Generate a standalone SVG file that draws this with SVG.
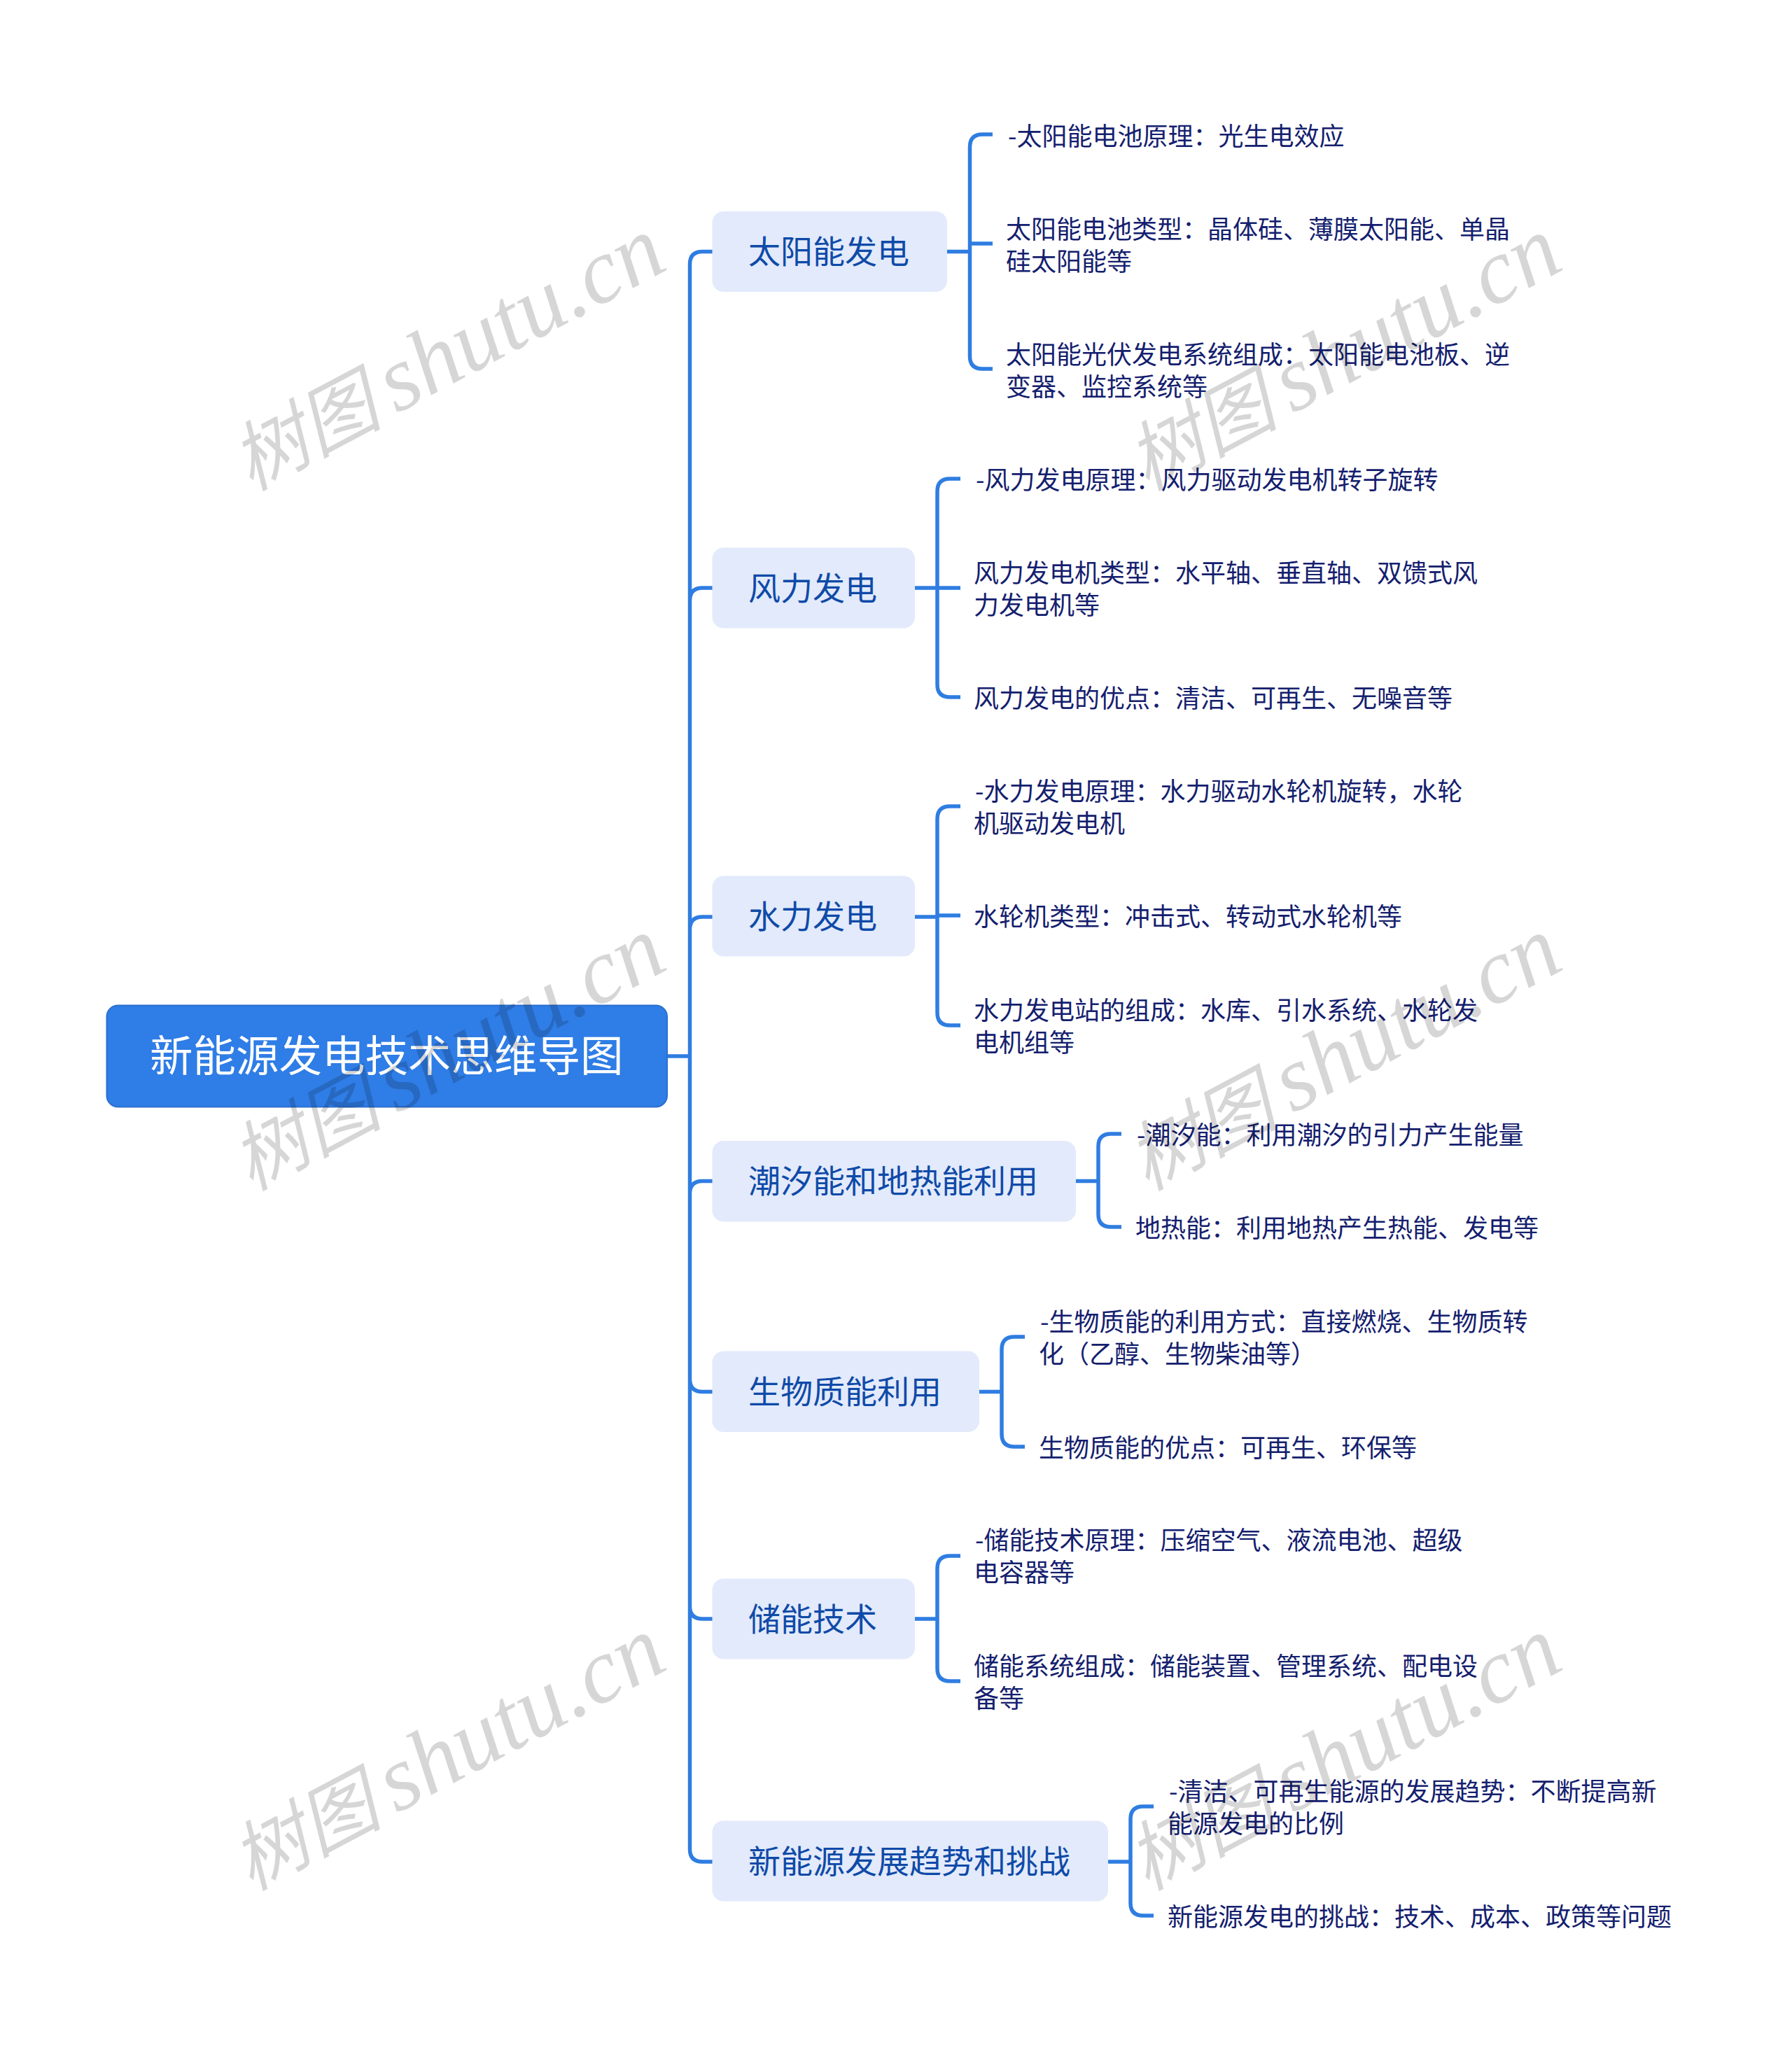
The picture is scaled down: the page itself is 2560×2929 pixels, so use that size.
<svg xmlns="http://www.w3.org/2000/svg" width="2560" height="2929" viewBox="0 0 2560 2929">
<defs>
<style>
text{font-family:"Noto Sans CJK SC","Noto Sans",sans-serif}
.c{fill:none;stroke:#2f7de1;stroke-width:5.500}
.b{fill:#e2eafb}
.bt{font-size:46px;fill:#0f4aa8}
.lt{font-size:36px;fill:#14206e}
.wm{font-family:"Liberation Serif","Noto Sans CJK SC",serif;font-style:italic;font-size:132px;fill:#000;fill-opacity:.16}
.wc{font-size:108px}
</style>
<g id="mark"><text class="wm" transform="rotate(-28)" x="0" y="0"><tspan class="wc">树图</tspan><tspan dx="20">shutu.cn</tspan></text></g>
</defs>
<rect width="2560" height="2929" fill="#fff"/>
<g id="connectors">
<path class="c" d="M954 1509H985.500M1018 359.500H1003.500Q985.500 359.500 985.500 377.500V2642Q985.500 2660 1003.500 2660H1018M1018 840H1003.500Q985.500 840 985.500 858M1018 1310H1003.500Q985.500 1310 985.500 1328M1018 1687.500H1003.500Q985.500 1687.500 985.500 1705.500M1018 1988.500H1003.500Q985.500 1988.500 985.500 1970.500M1018 2313H1003.500Q985.500 2313 985.500 2295"/>
<path class="c" d="M1353 359.500H1385.500M1418 192H1403.500Q1385.500 192 1385.500 210V509Q1385.500 527 1403.500 527H1418M1385.500 348H1418"/>
<path class="c" d="M1307 840H1339M1372 684H1357Q1339 684 1339 702V978Q1339 996 1357 996H1372M1339 840H1372"/>
<path class="c" d="M1307 1310H1339M1372 1152H1357Q1339 1152 1339 1170V1447Q1339 1465 1357 1465H1372M1339 1308H1372"/>
<path class="c" d="M1537 1687.500H1569M1602 1620H1587Q1569 1620 1569 1638V1735Q1569 1753 1587 1753H1602"/>
<path class="c" d="M1399 1988.500H1431M1464 1910H1449Q1431 1910 1431 1928V2049Q1431 2067 1449 2067H1464"/>
<path class="c" d="M1307 2313H1339M1372 2223H1357Q1339 2223 1339 2241V2384Q1339 2402 1357 2402H1372"/>
<path class="c" d="M1583 2660H1615M1648 2581H1633Q1615 2581 1615 2599V2719Q1615 2737 1633 2737H1648"/>
</g>
<g id="root"><rect x="152.500" y="1436.500" width="800.500" height="145" rx="16" fill="#2f7de6" stroke="#2a70d0" stroke-width="2"/><text x="214" y="1531" font-size="61.500" fill="#fff">新能源发电技术思维导图</text></g>
<g id="n1"><rect class="b" x="1017.500" y="302" width="335.500" height="115" rx="16"/><text class="bt" x="1069" y="376">太阳能发电</text></g>
<g id="n1a"><text class="lt" x="1440" y="207.500">-太阳能电池原理：光生电效应</text></g>
<g id="n1b"><text class="lt" x="1437" y="340.500">太阳能电池类型：晶体硅、薄膜太阳能、单晶</text><text class="lt" x="1437" y="386.500">硅太阳能等</text></g>
<g id="n1c"><text class="lt" x="1437" y="519.500">太阳能光伏发电系统组成：太阳能电池板、逆</text><text class="lt" x="1437" y="565.500">变器、监控系统等</text></g>
<g id="n2"><rect class="b" x="1017.500" y="782.500" width="289.500" height="115" rx="16"/><text class="bt" x="1069" y="857">风力发电</text></g>
<g id="n2a"><text class="lt" x="1394" y="699">-风力发电原理：风力驱动发电机转子旋转</text></g>
<g id="n2b"><text class="lt" x="1391" y="832">风力发电机类型：水平轴、垂直轴、双馈式风</text><text class="lt" x="1391" y="878">力发电机等</text></g>
<g id="n2c"><text class="lt" x="1391" y="1011">风力发电的优点：清洁、可再生、无噪音等</text></g>
<g id="n3"><rect class="b" x="1017.500" y="1251.500" width="289.500" height="115" rx="16"/><text class="bt" x="1069" y="1326">水力发电</text></g>
<g id="n3a"><text class="lt" x="1393" y="1144">-水力发电原理：水力驱动水轮机旋转，水轮</text><text class="lt" x="1391" y="1190">机驱动发电机</text></g>
<g id="n3b"><text class="lt" x="1391" y="1323">水轮机类型：冲击式、转动式水轮机等</text></g>
<g id="n3c"><text class="lt" x="1391" y="1457">水力发电站的组成：水库、引水系统、水轮发</text><text class="lt" x="1391" y="1503">电机组等</text></g>
<g id="n4"><rect class="b" x="1017.500" y="1630" width="519.500" height="115.500" rx="16"/><text class="bt" x="1069" y="1704">潮汐能和地热能利用</text></g>
<g id="n4a"><text class="lt" x="1624" y="1635">-潮汐能：利用潮汐的引力产生能量</text></g>
<g id="n4b"><text class="lt" x="1622" y="1768">地热能：利用地热产生热能、发电等</text></g>
<g id="n5"><rect class="b" x="1017.500" y="1930.500" width="381.500" height="115.500" rx="16"/><text class="bt" x="1069" y="2005">生物质能利用</text></g>
<g id="n5a"><text class="lt" x="1486" y="1902">-生物质能的利用方式：直接燃烧、生物质转</text><text class="lt" x="1484" y="1948">化（乙醇、生物柴油等）</text></g>
<g id="n5b"><text class="lt" x="1484" y="2082">生物质能的优点：可再生、环保等</text></g>
<g id="n6"><rect class="b" x="1017.500" y="2255.500" width="289.500" height="115" rx="16"/><text class="bt" x="1069" y="2330">储能技术</text></g>
<g id="n6a"><text class="lt" x="1393" y="2214">-储能技术原理：压缩空气、液流电池、超级</text><text class="lt" x="1391" y="2260">电容器等</text></g>
<g id="n6b"><text class="lt" x="1391" y="2394">储能系统组成：储能装置、管理系统、配电设</text><text class="lt" x="1391" y="2440">备等</text></g>
<g id="n7"><rect class="b" x="1017.500" y="2601.500" width="565.500" height="115" rx="16"/><text class="bt" x="1069" y="2676">新能源发展趋势和挑战</text></g>
<g id="n7a"><text class="lt" x="1670" y="2573">-清洁、可再生能源的发展趋势：不断提高新</text><text class="lt" x="1668" y="2619">能源发电的比例</text></g>
<g id="n7b"><text class="lt" x="1668" y="2752">新能源发电的挑战：技术、成本、政策等问题</text></g>
<use href="#mark" x="358" y="702"/>
<use href="#mark" x="1638" y="702"/>
<use href="#mark" x="358" y="1702"/>
<use href="#mark" x="1638" y="1702"/>
<use href="#mark" x="358" y="2702"/>
<use href="#mark" x="1638" y="2702"/>
</svg>
